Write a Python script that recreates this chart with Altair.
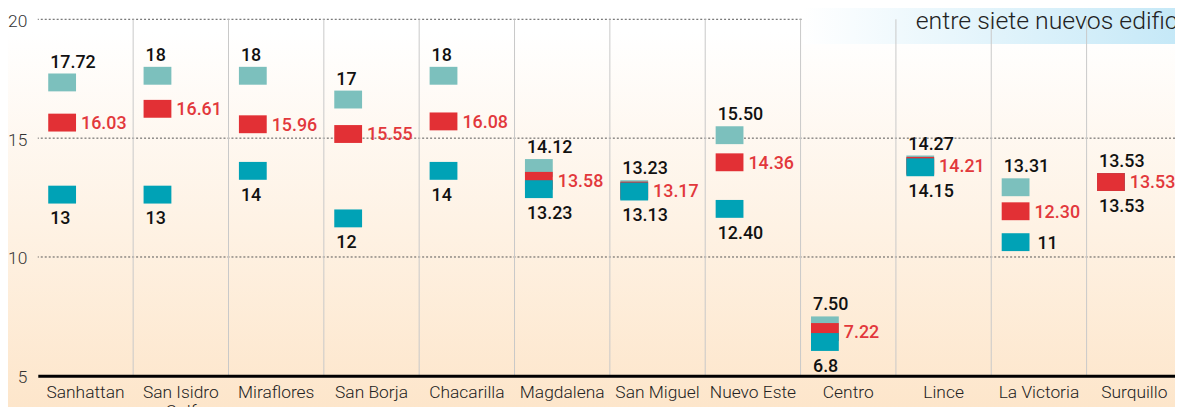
import altair as alt
import pandas as pd

# ---------------- data ----------------
categories = ["Sanhattan", "San Isidro Golf", "Miraflores", "San Borja", "Chacarilla",
              "Magdalena", "San Miguel", "Nuevo Este", "Centro", "Lince",
              "La Victoria", "Surquillo"]
max_labels = ["17.72", "18", "18", "17", "18", "14.12", "13.23", "15.50", "7.50",
              "14.27", "13.31", "13.53"]
avg_labels = ["16.03", "16.61", "15.96", "15.55", "16.08", "13.58", "13.17", "14.36",
              "7.22", "14.21", "12.30", "13.53"]
min_labels = ["13", "13", "14", "12", "14", "13.23", "13.13", "12.40", "6.8",
              "14.15", "11", "13.53"]
y_ticks = [5, 10, 15, 20]
note_text = "entre siete nuevos edificios"

rows = []
for series, labels in (("max", max_labels), ("min", min_labels), ("avg", avg_labels)):
    for cat, lab in zip(categories, labels):
        rows.append({"cat": cat, "series": series, "label": lab, "value": float(lab)})
df = pd.DataFrame(rows)

# ---------------- layout / style ----------------
W, H = 1145, 359
COL = 96
LIGHT, RED, DARK = "#7cc0bd", "#e23035", "#00a2b6"
RED_TXT = "#e2383c"
NUM_FONT = dict(font="Roboto", fontSize=18, fontWeight=500)

x_enc = alt.X(
    "cat:N",
    sort=categories,
    scale=alt.Scale(domain=categories, range=[0, COL * len(categories)],
                    paddingInner=0, paddingOuter=0),
    axis=alt.Axis(title=None, ticks=False, domain=True, domainColor="#000000",
                  domainWidth=3, labelAngle=0, labelFont="Roboto", labelFontSize=17.5,
                  labelFontWeight=300, labelColor="#222222", labelPadding=8,
                  labelLimit=300, labelLineHeight=19, zindex=1,
                  labelExpr="datum.label == 'San Isidro Golf' ? ['San Isidro', 'Golf'] : datum.label"),
)
y_scale = alt.Scale(domain=[5, 20], nice=False, zero=False)
y_enc = alt.Y(
    "value:Q", scale=y_scale,
    axis=alt.Axis(values=y_ticks, title=None, domain=False, ticks=False, grid=False,
                  labelFont="Roboto", labelFontSize=17.5, labelFontWeight=300,
                  labelColor="#333333", labelPadding=11, labelOffset=2, zindex=1),
)

one = alt.Data(values=[{"t": note_text}])

bg = alt.Chart(one).mark_rect(
    fill=alt.Gradient(gradient="linear", x1=0, x2=0, y1=0, y2=1,
                      stops=[alt.GradientStop(color="#ffffff", offset=0),
                             alt.GradientStop(color="#ffffff", offset=0.06),
                             alt.GradientStop(color="#fde5c9", offset=1)])
).encode(x=alt.value(-40), x2=alt.value(W + 10), y=alt.value(-12), y2=alt.value(H + 45))

grid = alt.Chart(pd.DataFrame({"value": y_ticks[1:]})).mark_rule(
    color="#555555", strokeWidth=1, strokeDash=[2, 2]
).encode(y=y_enc)

box = alt.Chart(one).mark_rect(
    fill=alt.Gradient(gradient="linear", x1=0, x2=1, y1=0, y2=0,
                      stops=[alt.GradientStop(color="#ffffff", offset=0),
                             alt.GradientStop(color="#c4e8f7", offset=1)])
).encode(x=alt.value(770), x2=alt.value(W + 10), y=alt.value(-12), y2=alt.value(25))

note = alt.Chart(one).mark_text(
    align="left", baseline="alphabetic", font="Roboto", fontSize=25, fontWeight=300,
    color="#222222"
).encode(x=alt.value(884), y=alt.value(10), text="t:N")

base = alt.Chart(df)

seps = base.transform_filter(
    f"datum.cat != '{categories[0]}' && datum.series == 'max'"
).mark_rule(color="#c9c9c9", strokeWidth=1, xOffset=-COL / 2).encode(x=x_enc)

ticks = base.mark_tick(
    orient="horizontal", size=28, thickness=18, yOffset=9, xOffset=-23.5, opacity=1
).encode(
    x=x_enc, y=y_enc,
    color=alt.Color("series:N", scale=alt.Scale(domain=["max", "avg", "min"],
                                                range=[LIGHT, RED, DARK]), legend=None),
    order=alt.Order("value:Q", sort="descending"),
)

max_txt = base.transform_filter("datum.series == 'max'").mark_text(
    align="left", baseline="alphabetic", xOffset=-35.5, yOffset=-6, color="#111111",
    **NUM_FONT
).encode(x=x_enc, y=y_enc, text="label:N")

avg_txt = base.transform_filter("datum.series == 'avg'").mark_text(
    align="left", baseline="alphabetic", xOffset=-4.5, yOffset=15.5, color=RED_TXT,
    **NUM_FONT
).encode(x=x_enc, y=y_enc, text="label:N")

min_txt = base.transform_filter(
    "datum.series == 'min' && datum.cat != 'La Victoria'"
).mark_text(
    align="left", baseline="alphabetic", xOffset=-35.5, yOffset=39, color="#111111",
    **NUM_FONT
).encode(x=x_enc, y=y_enc, text="label:N")

min_side = base.transform_filter(
    "datum.series == 'min' && datum.cat == 'La Victoria'"
).mark_text(
    align="left", baseline="alphabetic", xOffset=-1.5, yOffset=15.5, color="#111111",
    **NUM_FONT
).encode(x=x_enc, y=y_enc, text="label:N")

chart = alt.layer(
    bg, grid, box, seps, ticks, max_txt, avg_txt, min_txt, min_side, note
).properties(
    width=W, height=H,
    autosize=alt.AutoSizeParams(type="none"),
    padding={"left": 38 - 8, "top": 10, "right": 0, "bottom": 30},
    background="#ffffff",
).configure_view(strokeWidth=0)

chart.save("out.html", embed_options={"renderer": "svg", "actions": False})
